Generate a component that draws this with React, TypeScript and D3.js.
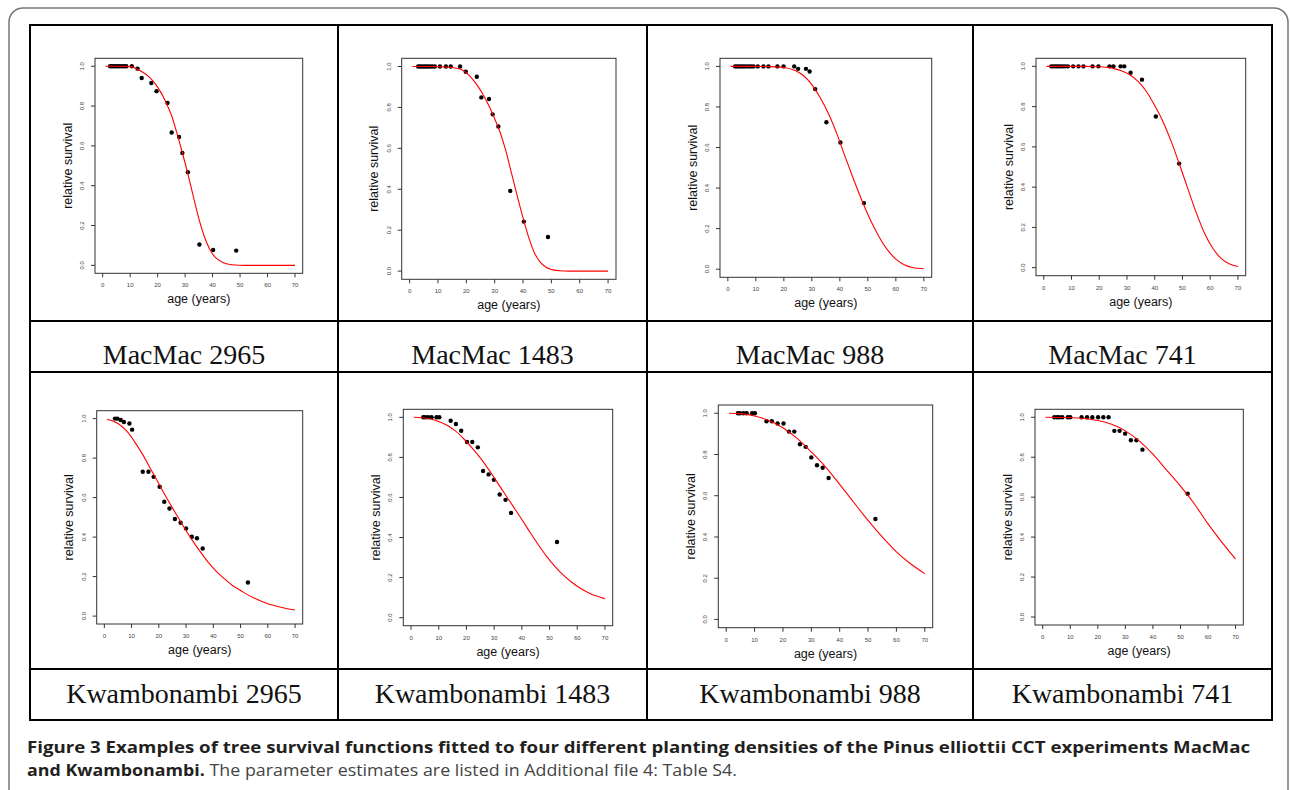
import React from 'react';
import * as d3 from 'd3';

// tick values shared by all eight plots
const ageTicks = [0, 10, 20, 30, 40, 50, 60, 70];
const survTicks = [0, 0.2, 0.4, 0.6, 0.8, 1.0];

const panelLabels = [
  'MacMac 2965', 'MacMac 1483', 'MacMac 988', 'MacMac 741',
  'Kwambonambi 2965', 'Kwambonambi 1483', 'Kwambonambi 988', 'Kwambonambi 741',
];

// observed relative survival, [age, survival]
const mac2965Obs = [[2.7, 1], [3.4, 1], [4.1, 1], [4.8, 1], [5.5, 1], [6.2, 1], [7, 1], [7.8, 1], [8.6, 1], [10.6, 1], [12.7, 0.988], [14.2, 0.941], [17.7, 0.916], [19.6, 0.875], [23.6, 0.816], [25.1, 0.667], [27.8, 0.645], [29, 0.564], [31, 0.468], [35.2, 0.105], [40.2, 0.077], [48.6, 0.074]];
const mac1483Obs = [[3, 1], [3.7, 1], [4.4, 1], [5.1, 1], [5.8, 1], [6.5, 1], [7.2, 1], [8, 1], [8.9, 1], [10.7, 1], [12.8, 1], [14.5, 1], [17.8, 1], [19.8, 0.974], [23.7, 0.95], [25.3, 0.849], [28, 0.841], [29.3, 0.766], [31.3, 0.707], [35.5, 0.392], [40.3, 0.242], [48.8, 0.167]];
const mac988Obs = [[2.6, 1], [3.3, 1], [4, 1], [4.7, 1], [5.4, 1], [6.1, 1], [6.9, 1], [7.7, 1], [8.4, 1], [9.2, 1], [10.7, 1], [12.7, 1], [14.5, 1], [17.7, 1], [19.9, 1], [23.7, 1], [25.1, 0.988], [27.9, 0.988], [29.2, 0.975], [31.2, 0.888], [35.2, 0.725], [40.2, 0.625], [48.6, 0.326]];
const mac741Obs = [[2.7, 1], [3.4, 1], [4.1, 1], [4.8, 1], [5.5, 1], [6.2, 1], [7, 1], [7.8, 1], [8.7, 1], [10.6, 1], [12.5, 1], [14.3, 1], [17.6, 1], [19.7, 1], [23.7, 1], [25.1, 1], [27.7, 1], [29, 1], [31.3, 0.968], [35.4, 0.934], [40.4, 0.751], [48.8, 0.517]];
const kwa2965Obs = [[3.9, 1], [4.8, 1], [6, 0.993], [7.2, 0.983], [9.2, 0.975], [10.2, 0.944], [14.1, 0.731], [16.2, 0.731], [18.1, 0.705], [20.3, 0.655], [22, 0.579], [23.9, 0.545], [25.9, 0.492], [28, 0.473], [30, 0.444], [32.1, 0.402], [34, 0.394], [36.1, 0.342], [52.7, 0.17]];
const kwa1483Obs = [[4.4, 1], [5.2, 1], [6.2, 1], [7.4, 1], [9.2, 1], [10.2, 1], [14.3, 0.983], [16.2, 0.967], [18.1, 0.933], [20.2, 0.877], [22.1, 0.877], [24.1, 0.85], [26, 0.732], [28, 0.715], [29.9, 0.688], [32, 0.615], [34.1, 0.588], [36.1, 0.523], [52.7, 0.378]];
const kwa988Obs = [[4.1, 1], [4.9, 1], [6.1, 1], [7.2, 1], [9.1, 1], [10.1, 1], [14.2, 0.961], [16.1, 0.961], [18.1, 0.95], [20.2, 0.95], [22.1, 0.911], [24, 0.911], [26, 0.85], [28, 0.837], [30, 0.786], [32, 0.748], [34, 0.736], [36.1, 0.686], [52.6, 0.487]];
const kwa741Obs = [[4.2, 1], [5.2, 1], [6, 1], [7.1, 1], [9.1, 1], [10, 1], [14.1, 1], [16.1, 1], [18, 1], [20.1, 1], [22, 1], [23.9, 1], [26, 0.932], [27.9, 0.932], [29.9, 0.918], [32, 0.885], [34, 0.885], [36.2, 0.838], [52.6, 0.617]];

// fitted survival curves
const mac2965Fit = [[1, 1], [5, 1], [10, 0.998], [14, 0.975], [17, 0.945], [20, 0.895], [23, 0.82], [25, 0.755], [27, 0.665], [29, 0.565], [31, 0.46], [33, 0.345], [35, 0.235], [37, 0.145], [39, 0.08], [41, 0.04], [43, 0.02], [45, 0.008], [48, 0.002], [52, 0], [70, 0]];
const mac1483Fit = [[1, 1], [8, 1], [12, 0.998], [15, 0.995], [18, 0.987], [21, 0.957], [24, 0.905], [27, 0.835], [30, 0.745], [32, 0.675], [34, 0.585], [36, 0.475], [38, 0.365], [40, 0.26], [42, 0.165], [44, 0.09], [46, 0.045], [48, 0.02], [50, 0.008], [53, 0.002], [56, 0], [70, 0]];
const mac988Fit = [[1, 1], [10, 1], [15, 0.999], [20, 0.995], [24, 0.98], [27, 0.955], [30, 0.91], [33, 0.845], [36, 0.765], [39, 0.665], [42, 0.55], [45, 0.44], [48, 0.335], [51, 0.24], [54, 0.16], [57, 0.095], [60, 0.05], [63, 0.022], [66, 0.008], [70, 0.002]];
const mac741Fit = [[1, 1], [15, 1], [20, 0.998], [25, 0.99], [28, 0.978], [31, 0.958], [34, 0.925], [37, 0.875], [40, 0.805], [43, 0.725], [46, 0.625], [49, 0.51], [52, 0.39], [55, 0.272], [58, 0.17], [61, 0.095], [64, 0.045], [67, 0.018], [70, 0.006]];
const kwa2965Fit = [[1, 0.997], [5, 0.975], [8, 0.94], [11, 0.885], [14, 0.82], [17, 0.745], [20, 0.67], [23, 0.595], [26, 0.525], [29, 0.455], [32, 0.39], [35, 0.33], [38, 0.275], [41, 0.228], [44, 0.19], [47, 0.155], [50, 0.13], [53, 0.105], [56, 0.085], [59, 0.068], [62, 0.055], [66, 0.041], [70, 0.031]];
const kwa1483Fit = [[1, 1], [4, 0.998], [7, 0.992], [10, 0.979], [13, 0.96], [16, 0.932], [19, 0.893], [22, 0.848], [25, 0.798], [28, 0.74], [31, 0.678], [34, 0.615], [37, 0.553], [40, 0.49], [43, 0.425], [46, 0.363], [49, 0.305], [52, 0.255], [55, 0.212], [58, 0.177], [61, 0.148], [64, 0.125], [67, 0.108], [70, 0.095]];
const kwa988Fit = [[1, 1], [5, 0.998], [10, 0.987], [15, 0.965], [20, 0.93], [25, 0.878], [30, 0.812], [35, 0.74], [40, 0.655], [45, 0.567], [50, 0.48], [55, 0.4], [60, 0.328], [65, 0.27], [70, 0.222]];
const kwa741Fit = [[1, 1], [10, 0.998], [15, 0.994], [20, 0.984], [25, 0.965], [30, 0.932], [35, 0.882], [40, 0.815], [45, 0.735], [50, 0.655], [55, 0.567], [60, 0.466], [65, 0.375], [70, 0.29]];

const observed = [mac2965Obs, mac1483Obs, mac988Obs, mac741Obs, kwa2965Obs, kwa1483Obs, kwa988Obs, kwa741Obs];
const fitted = [mac2965Fit, mac1483Fit, mac988Fit, mac741Fit, kwa2965Fit, kwa1483Fit, kwa988Fit, kwa741Fit];

// layout: plot box of each panel [left, top, right, bottom]
const boxes = [
  [95, 58.3, 302.7, 273.3], [401.7, 58.3, 616, 279.3], [720, 58.3, 931.7, 277.3], [1036, 58.3, 1245.7, 275.7],
  [96.7, 410.7, 302.7, 624], [403.3, 409.3, 612.7, 625.7], [718.3, 405, 932.7, 627.7], [1035, 409.3, 1243.3, 625],
];
const colX = [30, 338, 647, 973, 1272];
const rowY = [25, 321, 372, 669, 720];
const labelBaseline = [364, 703];

const sans = 'Liberation Sans, Arial, Helvetica, sans-serif';

function Panel({ box, obs, fit }) {
  const [l, t, r, b] = box;
  // R style axes: 4% padding around 0..70 and 0..1
  const x = d3.scaleLinear().domain([-2.8, 72.8]).range([l, r]);
  const y = d3.scaleLinear().domain([-0.04, 1.04]).range([b, t]);
  const line = d3.line().x(d => x(d[0])).y(d => y(d[1])).curve(d3.curveMonotoneX);

  return (
    <g>
      <rect x={l} y={t} width={r - l} height={b - t} fill="none" stroke="#333" strokeWidth={1} />
      {ageTicks.map(v => (
        <g key={'x' + v}>
          <line x1={x(v)} x2={x(v)} y1={b} y2={b + 4} stroke="#333" />
          <text x={x(v)} y={b + 14} fontSize={6} fill="#444" textAnchor="middle" fontFamily={sans}>{v}</text>
        </g>
      ))}
      {survTicks.map(v => (
        <g key={'y' + v}>
          <line x1={l - 4} x2={l} y1={y(v)} y2={y(v)} stroke="#333" />
          <text transform={`translate(${l - 11},${y(v)}) rotate(-90)`} fontSize={6} fill="#444" textAnchor="middle" fontFamily={sans}>{v.toFixed(1)}</text>
        </g>
      ))}
      <text x={(x(0) + x(70)) / 2} y={b + 30} fontSize={12.5} textAnchor="middle" fontFamily={sans} fill="#111">age (years)</text>
      <text transform={`translate(${l - 23.5},${(y(0) + y(1)) / 2}) rotate(-90)`} fontSize={12.5} textAnchor="middle" fontFamily={sans} fill="#111">relative survival</text>
      {obs.map((d, i) => (
        <circle key={i} cx={x(d[0])} cy={y(d[1])} r={2.2} fill="#000" />
      ))}
      <path d={line(fit)} fill="none" stroke="#ff0000" strokeWidth={1.1} />
    </g>
  );
}

export default function App() {
  return (
    <svg width={1290} height={790} style={{ position: 'absolute', left: 0, top: 0, display: 'block', background: '#fff' }}>
      <rect x={9} y={8} width={1279} height={800} rx={14} fill="#fff" stroke="#777" strokeWidth={1.5} />

      {/* table grid */}
      {rowY.map(yy => (
        <line key={'h' + yy} x1={colX[0] - 1} x2={colX[4] + 1} y1={yy} y2={yy} stroke="#000" strokeWidth={2} />
      ))}
      {colX.map(xx => (
        <line key={'v' + xx} x1={xx} x2={xx} y1={rowY[0]} y2={rowY[4]} stroke="#000" strokeWidth={2} />
      ))}

      {boxes.map((bx, i) => (
        <Panel key={i} box={bx} obs={observed[i]} fit={fitted[i]} />
      ))}

      {panelLabels.map((lab, i) => (
        <text key={lab} x={(colX[i % 4] + colX[i % 4 + 1]) / 2} y={labelBaseline[Math.floor(i / 4)]}
          fontSize={28} textAnchor="middle" fontFamily="Liberation Serif, Times New Roman, serif" fill="#111">{lab}</text>
      ))}

      {/* caption */}
      <text x={27} y={752.7} fontSize={16.5} fontWeight="bold" fontFamily="Open Sans, sans-serif" fill="#231f20"
        textLength={1223} lengthAdjust="spacingAndGlyphs">
        Figure 3 Examples of tree survival functions fitted to four different planting densities of the Pinus elliottii CCT experiments MacMac
      </text>
      <text x={27} y={775.5} fontSize={16.5} fontFamily="Open Sans, sans-serif"
        textLength={710} lengthAdjust="spacingAndGlyphs">
        <tspan fontWeight="bold" fill="#231f20">and Kwambonambi.</tspan>
        <tspan fill="#444"> The parameter estimates are listed in Additional file 4: Table S4.</tspan>
      </text>
    </svg>
  );
}
